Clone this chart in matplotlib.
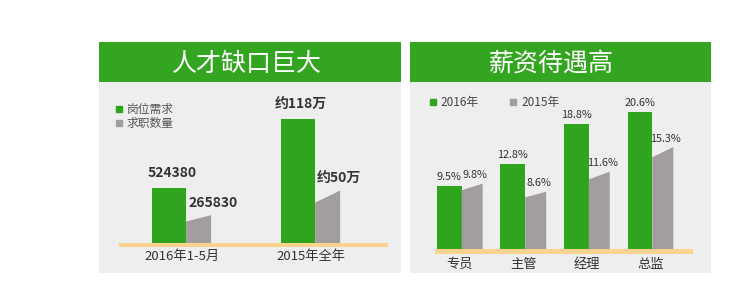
import matplotlib
matplotlib.use("Agg")
import matplotlib.pyplot as plt
from matplotlib.patches import Rectangle, Polygon
from matplotlib.lines import Line2D

plt.rcParams['font.family'] = ['Noto Sans CJK SC', 'DejaVu Sans']

# ---------------- data ----------------
left_title = "人才缺口巨大"
left_categories = ["2016年1-5月", "2015年全年"]
left_series = ["岗位需求", "求职数量"]
left_demand = [524380, 1180000]
left_supply = [265830, 500000]
left_demand_labels = ["524380", "约118万"]
left_supply_labels = ["265830", "约50万"]

right_title = "薪资待遇高"
right_categories = ["专员", "主管", "经理", "总监"]
right_series = ["2016年", "2015年"]
right_2016 = [9.5, 12.8, 18.8, 20.6]
right_2015 = [9.8, 8.6, 11.6, 15.3]

GREEN = '#2fa41d'
BAND = '#34a520'
GRAY = '#a29d9f'
ORANGE = '#fbd28e'
BG = '#eeeeee'
TXT = '#333333'

W, H = 750, 299
fig = plt.figure(figsize=(W / 100, H / 100), dpi=100)


def fx(px):
    return px / W


def fy(py):
    return 1 - py / H


def rect_px(x0, y0, x1, y1, color):
    fig.add_artist(Rectangle((fx(x0), fy(y1)), fx(x1) - fx(x0), fy(y0) - fy(y1),
                             transform=fig.transFigure, color=color, lw=0, zorder=0))


# panels
for (x0, x1, title, tx) in [(99, 401, left_title, 247), (410, 711, right_title, 551)]:
    rect_px(x0, 42, x1, 273, BG)
    rect_px(x0, 42, x1, 82, BAND)
    fig.text(fx(tx), fy(64), title, color='white', fontsize=18,
             ha='center', va='center')

# orange baselines
rect_px(119, 243, 388, 247, ORANGE)
rect_px(435, 249, 693, 254, ORANGE)


def draw_slant(ax, x, w, v, frac):
    poly = Polygon([(x, 0), (x + w, 0), (x + w, v), (x, v * frac)],
                   closed=True, facecolor=GRAY, edgecolor='none', zorder=3)
    ax.add_patch(poly)


# ---------------- left chart ----------------
axL = fig.add_axes([fx(119), fy(243), (388 - 119) / W, (243 - 93) / H])
axL.set_axis_off()
axL.patch.set_alpha(0)
gw, sw = 0.264, 0.194
xs = list(range(len(left_categories)))
axL.bar(xs, left_demand, width=gw, align='edge', color=GREEN, zorder=3,
        label=left_series[0])
for x, v in zip(xs, left_supply):
    draw_slant(axL, x + gw, sw, v, 0.77)
axL.set_xlim(-0.256, 1.829)
axL.set_ylim(0, 1.43e6)
for x, v, lab in zip(xs, left_demand, left_demand_labels):
    axL.annotate(lab, xy=(x + gw / 2, v), xytext=(2, 11), textcoords='offset points',
                 ha='center', va='center', fontsize=10, fontweight='bold', color=TXT)
for x, v, lab in zip(xs, left_supply, left_supply_labels):
    axL.annotate(lab, xy=(x + gw, v), xytext=(1.5, 9), textcoords='offset points',
                 ha='left', va='center', fontsize=10, fontweight='bold', color=TXT)
for x, lab in zip(xs, left_categories):
    axL.annotate(lab, xy=(x + (gw + sw) / 2, 0), xytext=(0, -10), textcoords='offset points',
                 ha='center', va='center', fontsize=9.5, color=TXT)
handlesL = [Line2D([], [], marker='s', ls='none', color=GREEN, markersize=4.5),
            Line2D([], [], marker='s', ls='none', color=GRAY, markersize=4.5)]
fig.legend(handlesL, left_series, loc='upper left',
           bbox_to_anchor=(fx(115), fy(103)), frameon=False, fontsize=8.5,
           handlelength=0.6, handletextpad=0.4, labelspacing=0.1,
           borderpad=0, borderaxespad=0, labelcolor='#555555')

# ---------------- right chart ----------------
axR = fig.add_axes([fx(435), fy(249), (693 - 435) / W, (249 - 99) / H])
axR.set_axis_off()
axR.patch.set_alpha(0)
gw2, sw2 = 0.39, 0.33
xs2 = list(range(len(right_categories)))
axR.bar(xs2, right_2016, width=gw2, align='edge', color=GREEN, zorder=3)
for x, v in zip(xs2, right_2015):
    draw_slant(axR, x + gw2, sw2, v, 0.9)
axR.set_xlim(-0.03, 4.03)
axR.set_ylim(0, 22.5)
for x, v in zip(xs2, right_2016):
    axR.annotate(f"{v:.1f}%", xy=(x + gw2 / 2, v), xytext=(0, 6), textcoords='offset points',
                 ha='center', va='center', fontsize=7.8, color=TXT)
for x, v in zip(xs2, right_2015):
    axR.annotate(f"{v:.1f}%", xy=(x + gw2 + sw2 / 2, v), xytext=(2, 6), textcoords='offset points',
                 ha='center', va='center', fontsize=7.8, color=TXT)
for x, lab in zip(xs2, right_categories):
    axR.annotate(lab, xy=(x + (gw2 + sw2) / 2, 0), xytext=(0, -11), textcoords='offset points',
                 ha='center', va='center', fontsize=9.5, color=TXT)
handlesR = [Line2D([], [], marker='s', ls='none', color=GREEN, markersize=4.5),
            Line2D([], [], marker='s', ls='none', color=GRAY, markersize=4.5)]
fig.legend(handlesR, right_series, loc='upper left', ncol=2,
           bbox_to_anchor=(fx(429), fy(96)), frameon=False, fontsize=8.5,
           handlelength=0.6, handletextpad=0.4, columnspacing=2.6,
           borderpad=0, borderaxespad=0, labelcolor='#444444')

fig.savefig("out.png", dpi=100, facecolor='white')
